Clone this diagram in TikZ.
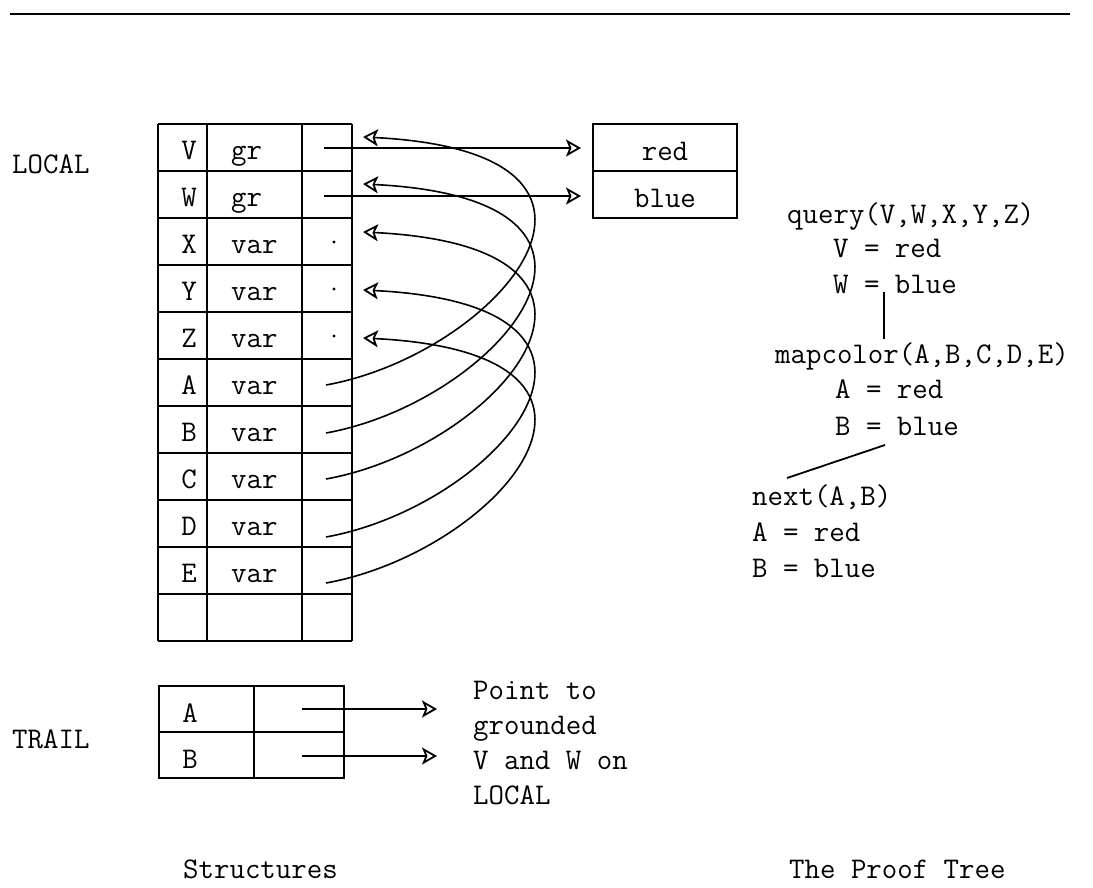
\documentclass[tikz,border=0pt]{standalone}
\usepackage{fontspec}
\usetikzlibrary{arrows.meta}
\begin{document}
\begin{tikzpicture}[x=1pt,y=-1pt,
  grid/.style={line width=1.9pt},
  lbl/.style={font=\ttfamily\fontsize{30}{35}\selectfont, inner sep=0pt, anchor=base west},
  clbl/.style={font=\ttfamily\fontsize{30}{35}\selectfont, inner sep=0pt, anchor=base},
  ptr/.style={line width=1.6pt, -{Stealth[open,length=15pt,width=17pt,inset=3.5pt,line width=1.8pt]}},
  tree/.style={line width=1.8pt}]
\useasboundingbox (0,0) rectangle (1093,887);
% top rule
\coordinate (ruleL) at (10,14);
\coordinate (ruleR) at (1070,14);
\draw[line width=2.8pt] (ruleL) -- (ruleR);

% ---------- LOCAL table ----------
\node[lbl] (local) at (12,173) {LOCAL};
\foreach \k in {0,...,11} \draw[grid] (158,124+47*\k) -- (352,124+47*\k);
\foreach \x in {158,207,302,352} \draw[grid] (\x,124) -- (\x,641);
\foreach \n/\t/\k in {V/gr/0,W/gr/1,X/var/2,Y/var/3,Z/var/4,A/var/5,B/var/6,C/var/7,D/var/8,E/var/9}{
  \node[clbl] (n\n) at (189,159+47*\k) {\n};
  \node[lbl] (t\n) at (231,159+47*\k) {\t};
}
\foreach \k in {2,3,4} \fill (334,242+47*\k-94) circle (1.6pt);

% value boxes
\node[draw, grid, minimum width=144pt, minimum height=47pt, inner sep=0pt] (redbox) at (665,147.5) {};
\node[draw, grid, minimum width=144pt, minimum height=47pt, inner sep=0pt] (bluebox) at (665,194.5) {};
\node[clbl] (red) at (665,160) {red};
\node[clbl] (blue) at (665,207) {blue};

% pointer coordinates
\coordinate (sV) at (324,148);
\coordinate (sW) at (324,196);
\coordinate (eV) at (581,148);
\coordinate (eW) at (581,196);
\draw[ptr] (sV) -- (eV);
\draw[ptr] (sW) -- (eW);

\coordinate (sA) at (326,385);
\coordinate (sB) at (326,433);
\coordinate (sC) at (326,479);
\coordinate (sD) at (326,537);
\coordinate (sE) at (326,583);
\coordinate (hV) at (363,137);
\coordinate (hW) at (363,184);
\coordinate (hX) at (363,232);
\coordinate (hY) at (363,290);
\coordinate (hZ) at (363,338);
\foreach \s/\h in {A/V,B/W,C/X,D/Y,E/Z}
  \draw[ptr] (s\s) .. controls +(172,-31) and +(308,15) .. (h\h);

% ---------- TRAIL table ----------
\node[lbl] (trail) at (12,748) {TRAIL};
\draw[grid] (159,686) rectangle (344,778);
\draw[grid] (159,732) -- (344,732);
\draw[grid] (254,686) -- (254,778);
\node[clbl] (trA) at (190,722) {A};
\node[clbl] (trB) at (190,768) {B};
\coordinate (tsA) at (302,709);
\coordinate (tsB) at (302,756);
\coordinate (teA) at (437,709);
\coordinate (teB) at (437,756);
\draw[ptr] (tsA) -- (teA);
\draw[ptr] (tsB) -- (teB);
\node[lbl] (p1) at (473,699) {Point to};
\node[lbl] (p2) at (473,734) {grounded};
\node[lbl] (p3) at (473,769) {V and W on};
\node[lbl] (p4) at (473,804) {LOCAL};

% ---------- proof tree ----------
\node[lbl] (q0) at (787,223) {query(V,W,X,Y,Z)};
\node[lbl] (q1) at (833,257) {V = red};
\node[lbl] (q2) at (833,293) {W = blue};
\node[lbl] (m0) at (775,363) {mapcolor(A,B,C,D,E)};
\node[lbl] (m1) at (835,398) {A = red};
\node[lbl] (m2) at (835,435) {B = blue};
\node[lbl] (x0) at (752,505) {next(A,B)};
\node[lbl] (x1) at (752,541) {A = red};
\node[lbl] (x2) at (752,577) {B = blue};
\coordinate (e1a) at (884,292);
\coordinate (e1b) at (884,339);
\coordinate (e2a) at (885,445);
\coordinate (e2b) at (787,478);
\draw[tree] (e1a) -- (e1b);
\draw[tree] (e2a) -- (e2b);

% captions
\node[lbl] (cap1) at (183,878) {Structures};
\node[lbl] (cap2) at (789,878) {The Proof Tree};
\end{tikzpicture}
\end{document}
